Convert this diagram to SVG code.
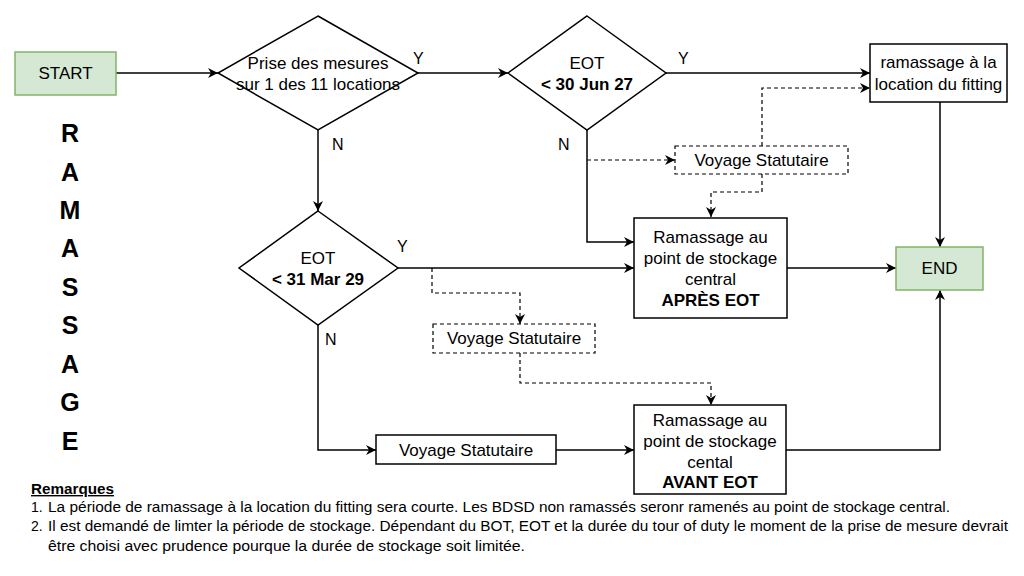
<svg xmlns="http://www.w3.org/2000/svg" width="1024" height="576" viewBox="0 0 1024 576">
<defs>
<marker id="arr" viewBox="0 0 10 10" refX="10" refY="5" markerWidth="10" markerHeight="10" markerUnits="userSpaceOnUse" orient="auto">
<path d="M0,0 L10,5 L0,10 L3,5 z" fill="#000"/>
</marker>
<style>
.n{fill:#fff;stroke:#000;stroke-width:1.5}
.g{fill:#d5e8d4;stroke:#82b366;stroke-width:1.5}
.d{fill:#fff;stroke:#000;stroke-width:1.2;stroke-dasharray:4 3}
.t{font-family:"Liberation Sans",Arial,sans-serif;font-size:17px;fill:#000;text-anchor:middle}
.b{font-weight:bold}
.c{fill:none;stroke:#000;stroke-width:1.5;marker-end:url(#arr)}
.cd{fill:none;stroke:#000;stroke-width:1.2;stroke-dasharray:4 3;marker-end:url(#arr)}
.l{font-family:"Liberation Sans",Arial,sans-serif;font-size:16px;fill:#000}
.v{font-family:"Liberation Sans",Arial,sans-serif;font-size:25px;font-weight:bold;fill:#000;text-anchor:middle}
.r{font-family:"Liberation Sans",Arial,sans-serif;font-size:14px;fill:#000}
</style>
</defs>
<rect width="1024" height="576" fill="#fff"/>
<g id="connectors">
<path class="c" d="M116,73 H218"/>
<path class="c" d="M418,73 H508"/>
<path class="c" d="M666,73 H870"/>
<path class="cd" d="M762,146 V88 H870"/>
<path class="cd" d="M587,160 H675"/>
<path class="cd" d="M762,174 V192 H711 V217"/>
<path class="c" d="M587,130 V242 H634"/>
<path class="c" d="M787,268 H896"/>
<path class="c" d="M940,102 V247"/>
<path class="c" d="M318,130 V211"/>
<path class="c" d="M398,268 H634"/>
<path class="cd" d="M432,268 V293 H520 V324"/>
<path class="cd" d="M520,353 V383 H711 V405"/>
<path class="c" d="M318,325 V450 H376"/>
<path class="c" d="M556,450 H634"/>
<path class="c" d="M786,450 H940 V290"/>
<text class="l" x="413" y="64">Y</text>
<text class="l" x="332" y="150">N</text>
<text class="l" x="678" y="64">Y</text>
<text class="l" x="558" y="150">N</text>
<text class="l" x="397" y="252">Y</text>
<text class="l" x="325" y="345">N</text>
</g>
<g id="start">
<rect class="g" x="15" y="52" width="101" height="43"/>
<text class="t" x="65.5" y="79">START</text>
</g>
<g id="decision-prise">
<polygon class="n" points="318,16 418,73 318,130 218,73"/>
<text class="t" x="318" y="69">Prise des mesures</text>
<text class="t" x="318" y="90">sur 1 des 11 locations</text>
</g>
<g id="decision-eot-jun">
<polygon class="n" points="587,16 666,73 587,130 508,73"/>
<text class="t" x="587" y="69">EOT</text>
<text class="t b" x="587" y="90">&lt; 30 Jun 27</text>
</g>
<g id="ramassage-fitting">
<rect class="n" x="870" y="44" width="137" height="58"/>
<text class="t" x="938.5" y="68">ramassage à la</text>
<text class="t" x="938.5" y="90">location du fitting</text>
</g>
<g id="voyage-1">
<rect class="d" x="675" y="146" width="173" height="28"/>
<text class="t" x="761.5" y="166">Voyage Statutaire</text>
</g>
<g id="apres-eot">
<rect class="n" x="634" y="218" width="153" height="100"/>
<text class="t" x="710.5" y="243">Ramassage au</text>
<text class="t" x="710.5" y="264">point de stockage</text>
<text class="t" x="710.5" y="285">central</text>
<text class="t b" x="710.5" y="306">APRÈS EOT</text>
</g>
<g id="end">
<rect class="g" x="896" y="247" width="87" height="43"/>
<text class="t" x="939.5" y="274">END</text>
</g>
<g id="decision-eot-mar">
<polygon class="n" points="318,211 398,268 318,325 239,268"/>
<text class="t" x="318" y="264">EOT</text>
<text class="t b" x="318" y="285">&lt; 31 Mar 29</text>
</g>
<g id="voyage-2">
<rect class="d" x="433" y="324" width="162" height="29"/>
<text class="t" x="514" y="344">Voyage Statutaire</text>
</g>
<g id="voyage-3">
<rect class="n" x="376" y="435" width="180" height="29"/>
<text class="t" x="466" y="456">Voyage Statutaire</text>
</g>
<g id="avant-eot">
<rect class="n" x="634" y="405" width="152" height="89"/>
<text class="t" x="710" y="426">Ramassage au</text>
<text class="t" x="710" y="447">point de stockage</text>
<text class="t" x="710" y="468">cental</text>
<text class="t b" x="710" y="488">AVANT EOT</text>
</g>
<g id="title-ramassage">
<text class="v" x="70" y="142">R</text>
<text class="v" x="70" y="181">A</text>
<text class="v" x="70" y="219">M</text>
<text class="v" x="70" y="257">A</text>
<text class="v" x="70" y="296">S</text>
<text class="v" x="70" y="334">S</text>
<text class="v" x="70" y="373">A</text>
<text class="v" x="70" y="411">G</text>
<text class="v" x="70" y="450">E</text>
</g>
<g id="remarques">
<text class="r" x="31" y="494" font-weight="bold" text-decoration="underline" textLength="83" lengthAdjust="spacingAndGlyphs">Remarques</text>
<text class="r" x="31" y="512">1.</text>
<text class="r" x="48" y="512" textLength="902" lengthAdjust="spacingAndGlyphs">La période de ramassage à la location du fitting sera courte. Les BDSD non ramassés seronr ramenés au point de stockage central.</text>
<text class="r" x="31" y="531">2.</text>
<text class="r" x="48" y="531" textLength="960" lengthAdjust="spacingAndGlyphs">Il est demandé de limter la période de stockage. Dépendant du BOT, EOT et la durée du tour of duty le moment de la prise de mesure devrait</text>
<text class="r" x="48" y="551" textLength="477" lengthAdjust="spacingAndGlyphs">être choisi avec prudence pourque la durée de stockage soit limitée.</text>
</g>
</svg>
